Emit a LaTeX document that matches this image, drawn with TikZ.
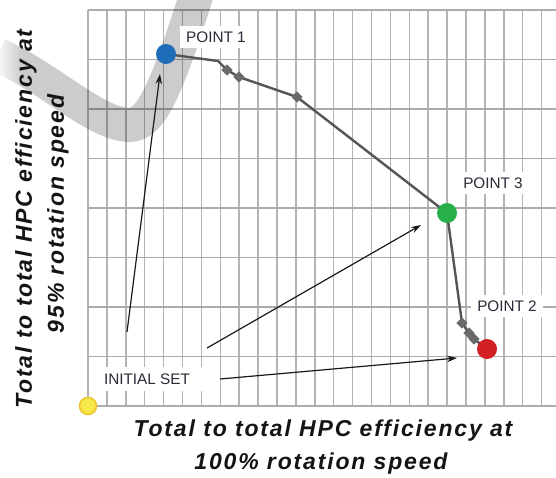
\documentclass[tikz,border=0pt]{standalone}
\usepackage{fontspec}
\setmainfont{Liberation Sans}
\newfontfamily\axfont[LetterSpace=8]{Liberation Sans}
\usetikzlibrary{arrows.meta,fadings}
\definecolor{gridc}{HTML}{B4B4B4}
\definecolor{curvec}{HTML}{555555}
\definecolor{mkc}{HTML}{6A6A6A}
\definecolor{labc}{HTML}{2B2B38}
\definecolor{blued}{HTML}{1F6DB8}
\definecolor{greend}{HTML}{27B04A}
\definecolor{redd}{HTML}{D21F24}
\definecolor{yellowd}{HTML}{F6E84A}
\definecolor{yelloweg}{HTML}{F2C22A}
\tikzfading[name=wfade, left color=transparent!20, right color=transparent!100]
\begin{document}
\begin{tikzpicture}[x=1pt,y=-1pt,
  gridv/.style={draw=gridc, line width=1.5pt},
  gridh/.style={draw=gridc!95!black, line width=1.9pt},
  band/.style={draw=black, draw opacity=0.2, line width=34pt},
  curve/.style={draw=curvec, line width=2.4pt, line join=round},
  mk/.style={rectangle, rotate=45, fill=mkc, minimum size=8pt, inner sep=0pt},
  dot/.style={circle, minimum size=20pt, inner sep=0pt},
  ptlabel/.style={fill=white, text=labc, inner xsep=6pt, inner ysep=6pt, font=\fontsize{15.3}{17}\selectfont},
  arr/.style={draw=black!90, line width=1.2pt, -{Stealth[length=10pt,width=6.5pt]}},
  axlabel/.style={text=black!92, font=\axfont\fontsize{23}{27}\selectfont\bfseries\itshape}
]
\useasboundingbox (0,0) rectangle (556,477);
\fill[white] (0,0) rectangle (556,477);
% grid
\foreach \k in {0,...,24} {\draw[gridv] ({88+18.9*\k},10) -- ({88+18.9*\k},406);}
\foreach \k in {0,...,8} {\draw[gridh] (88,{10+49.5*\k}) -- (556,{10+49.5*\k});}
% grey swoosh
\draw[band] (-2,55) .. controls (50,78) and (95,124) .. (129,125) .. controls (150,125) and (165,95) .. (198,-10);
\fill[white, path fading=wfade] (0,20) rectangle (22,100);
% axis labels
\node[axlabel, rotate=90] (ylab1) at (26,219) {Total to total HPC efficiency at};
\node[axlabel, rotate=90] (ylab2) at (58,214) {95\% rotation speed};
\node[axlabel] (xlab1) at (323,431) {Total to total HPC efficiency at};
\node[axlabel] (xlab2) at (321,464) {100\% rotation speed};
% labels
\node[ptlabel] (l1) at (216,37) {POINT 1};
\node[ptlabel] (l3) at (493,183) {POINT 3};
\node[ptlabel] (l2) at (507,306) {POINT 2};
\node[ptlabel, inner xsep=12pt, inner ysep=7pt] (li) at (147,379) {INITIAL SET};
% curve
\coordinate (P1) at (166,54);
\coordinate (P3) at (447,213);
\coordinate (P2) at (487,349);
\coordinate (P0) at (88,406);
\coordinate (c1) at (218,61);
\coordinate (m1) at (227,70);
\coordinate (m2) at (239,77);
\coordinate (m3) at (297,97);
\coordinate (m4) at (462,323);
\coordinate (m5) at (469,333);
\coordinate (m6) at (474,339);
\draw[curve] (P1) -- (c1) -- (m1) -- (m2) -- (m3) -- (P3) -- (m4) -- (m5) -- (m6) -- (P2);
\foreach \m in {m1,m2,m3,m4,m5,m6} {\node[mk] (k\m) at (\m) {};}
% arrows
\coordinate (a1s) at (127,332);
\coordinate (a1e) at (160,74);
\coordinate (a2s) at (207,348);
\coordinate (a2e) at (421,225);
\coordinate (a3s) at (220,379);
\coordinate (a3e) at (457,358);
\draw[arr] (a1s) -- (a1e);
\draw[arr] (a2s) -- (a2e);
\draw[arr] (a3s) -- (a3e);
% dots
\node[dot, fill=blued] (p1) at (P1) {};
\node[dot, fill=greend] (p3) at (P3) {};
\node[dot, fill=redd] (p2) at (P2) {};
\node[dot, fill=yellowd, draw=yelloweg, line width=1.5pt, minimum size=17pt] (p0) at (P0) {};
\end{tikzpicture}
\end{document}
